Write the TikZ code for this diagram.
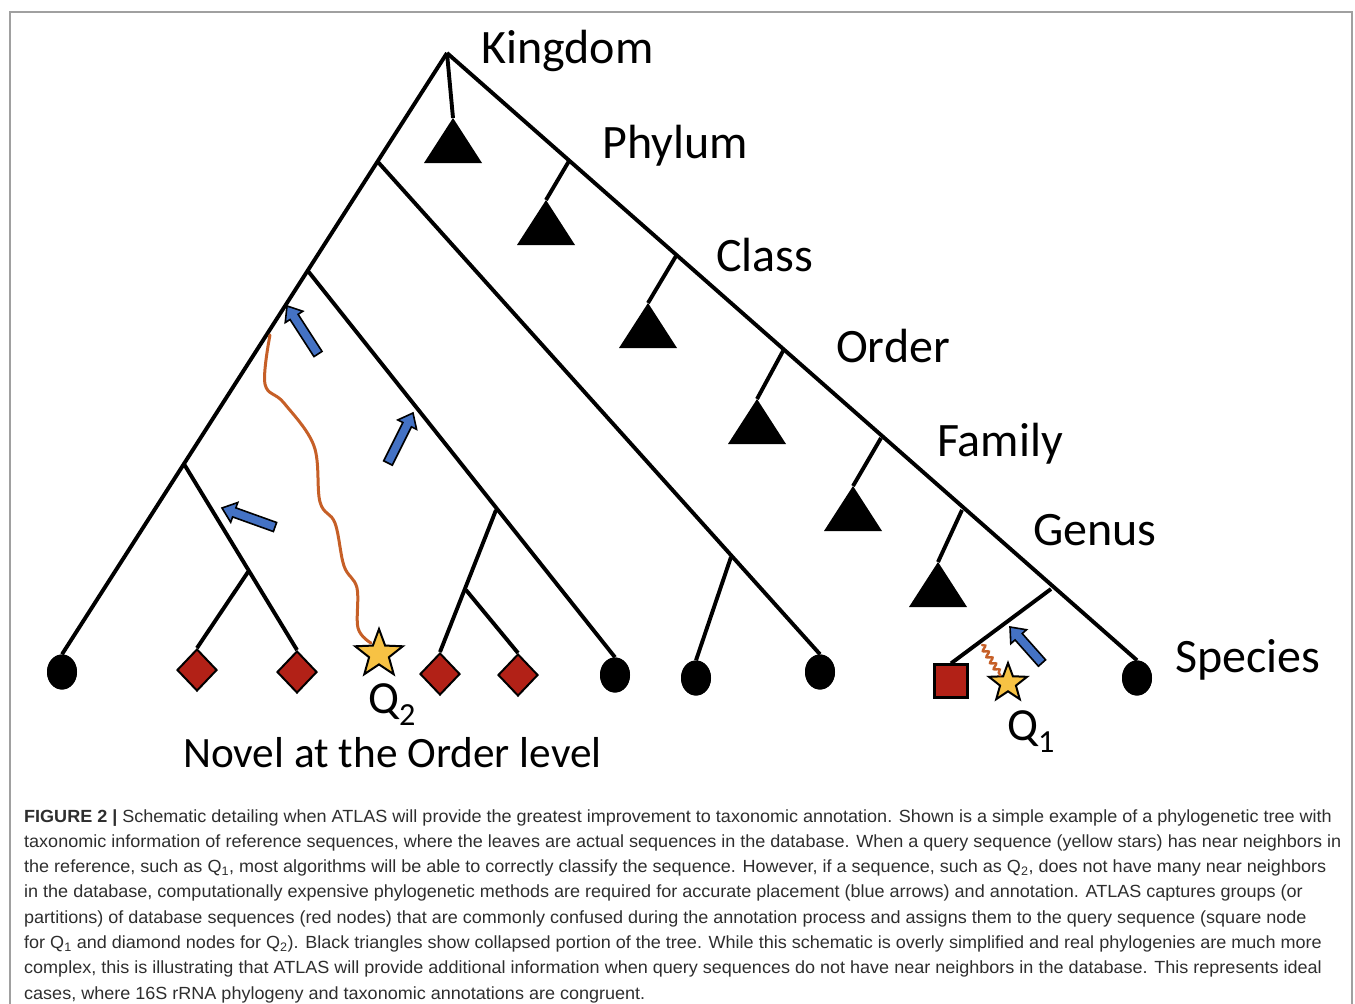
\documentclass[tikz,border=0pt]{standalone}
\usepackage{fontspec}
\setmainfont{Carlito}
\newfontfamily\capfont[FakeStretch=1.024]{Liberation Sans}
\usetikzlibrary{shapes.geometric,calc,decorations.pathmorphing}
\definecolor{nodered}{HTML}{B22117}
\definecolor{wavy}{HTML}{C65F27}
\definecolor{arrblue}{HTML}{4472C4}
\definecolor{staryellow}{HTML}{F7C244}
\definecolor{framegray}{HTML}{A0A0A0}
\definecolor{captext}{HTML}{2E2E2E}
\newcommand{\blockarr}[2]{%
  \coordinate (hb) at ($(#2)!13pt!(#1)$);
  \filldraw[fill=arrblue,draw=black,line width=1.6,line join=miter]
    ($(#1)!4.8pt!90:(#2)$) -- ($(hb)!4.8pt!-90:(#1)$) -- ($(hb)!10.5pt!-90:(#1)$)
    -- (#2) -- ($(hb)!10.5pt!90:(#1)$) -- ($(hb)!4.8pt!90:(#1)$)
    -- ($(#1)!4.8pt!-90:(#2)$) -- cycle;}
\begin{document}
\begin{tikzpicture}[x=1pt,y=-1pt,
  branch/.style={line width=3.9},
  leafdot/.style={ellipse,fill=black,minimum width=30,minimum height=35,inner sep=0},
  reddiamond/.style={diamond,fill=nodered,draw=black,line width=2,minimum width=40,minimum height=42,inner sep=0},
  redsquare/.style={rectangle,fill=nodered,draw=black,line width=2.2,minimum size=33,inner sep=0},
  qstar/.style={star,star points=5,star point ratio=2.4,fill=staryellow,draw=black,line width=2,inner sep=0},
  collapsed/.style={fill=black},
  ranklabel/.style={font=\fontsize{48}{56}\selectfont,anchor=base west,inner sep=0},
  qlabel/.style={font=\fontsize{46}{54}\selectfont,anchor=base west,inner sep=0},
  capline/.style={font=\capfont\fontsize{17.6}{20}\selectfont,text=captext,anchor=base west,inner sep=0},
  wave/.style={wavy,line width=3,line cap=round}]
\useasboundingbox (0,0) rectangle (1355,1004);
\draw[framegray,line width=1.4] (10,1010) -- (10,12) -- (1352,12) -- (1352,1010);

% leaves
\node[leafdot] (c1) at (62,672) {};
\node[reddiamond] (d1) at (197,670) {};
\node[reddiamond] (d2) at (297,672) {};
\node[reddiamond] (d3) at (440,674) {};
\node[reddiamond] (d4) at (518,675) {};
\node[leafdot] (c2) at (615,675) {};
\node[leafdot] (c3) at (696,678) {};
\node[leafdot] (c4) at (820,672) {};
\node[redsquare] (sq) at (951,681) {};
\node[leafdot] (c5) at (1137,678) {};

% internal points
\coordinate (root) at (447,53);
\coordinate (L1) at (378,162);
\coordinate (L2) at (308,271);
\coordinate (L3) at (184,464);
\coordinate (L3a) at (248,572);
\coordinate (L2a) at (496,510);
\coordinate (L2b) at (466,590);
\coordinate (L1a) at (731,557);
\coordinate (B1) at (569,161);
\coordinate (B2) at (676,256);
\coordinate (B3) at (783,351);
\coordinate (B4) at (881,438);
\coordinate (B5) at (962,510);
\coordinate (B6) at (1051,589);
\coordinate (t0) at (453,118);
\coordinate (t1) at (546,200);
\coordinate (t2) at (648,303);
\coordinate (t3) at (757,399);
\coordinate (t4) at (853,486);
\coordinate (t5) at (938,562);

% branches
\draw[branch] (root) -- (c1.north);
\draw[branch] (root) -- (c5.north);
\draw[branch] (root) -- (t0);
\draw[branch] (L1) -- (c4.north);
\draw[branch] (L1a) -- (c3.north);
\draw[branch] (L2) -- (c2.north);
\draw[branch] (L2a) -- (d3.north);
\draw[branch] (L2b) -- (d4.north);
\draw[branch] (L3) -- (d2.north);
\draw[branch] (L3a) -- (d1.north);
\foreach \b/\t in {B1/t1,B2/t2,B3/t3,B4/t4,B5/t5} \draw[branch] (\b) -- (\t);
\draw[branch] (B6) -- (sq.north);

% collapsed clades
\foreach \t in {t0,t1,t2,t3,t4,t5}
  \fill[collapsed] (\t) -- ++(-29,45) -- ++(58,0) -- cycle;

% leaves on top of lines
\node[leafdot] at (c1) {};
\node[leafdot] at (c2) {};
\node[leafdot] at (c3) {};
\node[leafdot] at (c4) {};
\node[leafdot] at (c5) {};

% queries
\node[qstar,minimum size=50] (q2) at (379,654) {};
\node[qstar,minimum size=40] (q1) at (1008,683) {};
\coordinate (w2) at (270,335);
\coordinate (w1) at (982,645);
\draw[wave] (w2) plot[smooth,tension=0.6] coordinates {(270,335) (265,384) (284,403) (314,446) (320,502) (335,523) (344,566) (357,588) (358,628) (371,643)};
\draw[wave,line width=2.4,decorate,decoration={snake,amplitude=2.5,segment length=7}] (w1) -- (q1.north west);

% placement arrows
\coordinate (a1s) at (318,354); \coordinate (a1e) at (287,306);
\coordinate (a2s) at (388,463); \coordinate (a2e) at (413,413);
\coordinate (a3s) at (275,527); \coordinate (a3e) at (222,508);
\coordinate (a4s) at (1042,663); \coordinate (a4e) at (1010,627);
\blockarr{a1s}{a1e}
\blockarr{a2s}{a2e}
\blockarr{a3s}{a3e}
\blockarr{a4s}{a4e}

% labels
\node[ranklabel] (lk) at (481,63) {Kingdom};
\node[ranklabel] (lp) at (602,158) {Phylum};
\node[ranklabel] (lc) at (716,271) {Class};
\node[ranklabel] (lo) at (836,362) {Order};
\node[ranklabel] (lf) at (937,456) {Family};
\node[ranklabel] (lg) at (1033,545) {Genus};
\node[ranklabel] (ls) at (1175,672) {Species};
\node[qlabel] (lq2) at (368,713) {Q\textsubscript{2}};
\node[qlabel] (lq1) at (1007,740) {Q\textsubscript{1}};
\node[font=\fontsize{43.3}{50}\selectfont,anchor=base west,inner sep=0] (novel) at (183,767) {Novel at the Order level};

% caption
\node[capline] (cap1) at (24,822) {\textbf{FIGURE 2 |} Schematic detailing when ATLAS will provide the greatest improvement to taxonomic annotation. Shown is a simple example of a phylogenetic tree with};
\node[capline] (cap2) at (24,847.3) {taxonomic information of reference sequences, where the leaves are actual sequences in the database. When a query sequence (yellow stars) has near neighbors in};
\node[capline] (cap3) at (24,872.6) {the reference, such as Q\textsubscript{1}, most algorithms will be able to correctly classify the sequence. However, if a sequence, such as Q\textsubscript{2}, does not have many near neighbors};
\node[capline] (cap4) at (24,897.9) {in the database, computationally expensive phylogenetic methods are required for accurate placement (blue arrows) and annotation. ATLAS captures groups (or};
\node[capline] (cap5) at (24,923.2) {partitions) of database sequences (red nodes) that are commonly confused during the annotation process and assigns them to the query sequence (square node};
\node[capline] (cap6) at (24,948.5) {for Q\textsubscript{1} and diamond nodes for Q\textsubscript{2}). Black triangles show collapsed portion of the tree. While this schematic is overly simplified and real phylogenies are much more};
\node[capline] (cap7) at (24,973.8) {complex, this is illustrating that ATLAS will provide additional information when query sequences do not have near neighbors in the database. This represents ideal};
\node[capline] (cap8) at (24,999.1) {cases, where 16S rRNA phylogeny and taxonomic annotations are congruent.};
\end{tikzpicture}
\end{document}
